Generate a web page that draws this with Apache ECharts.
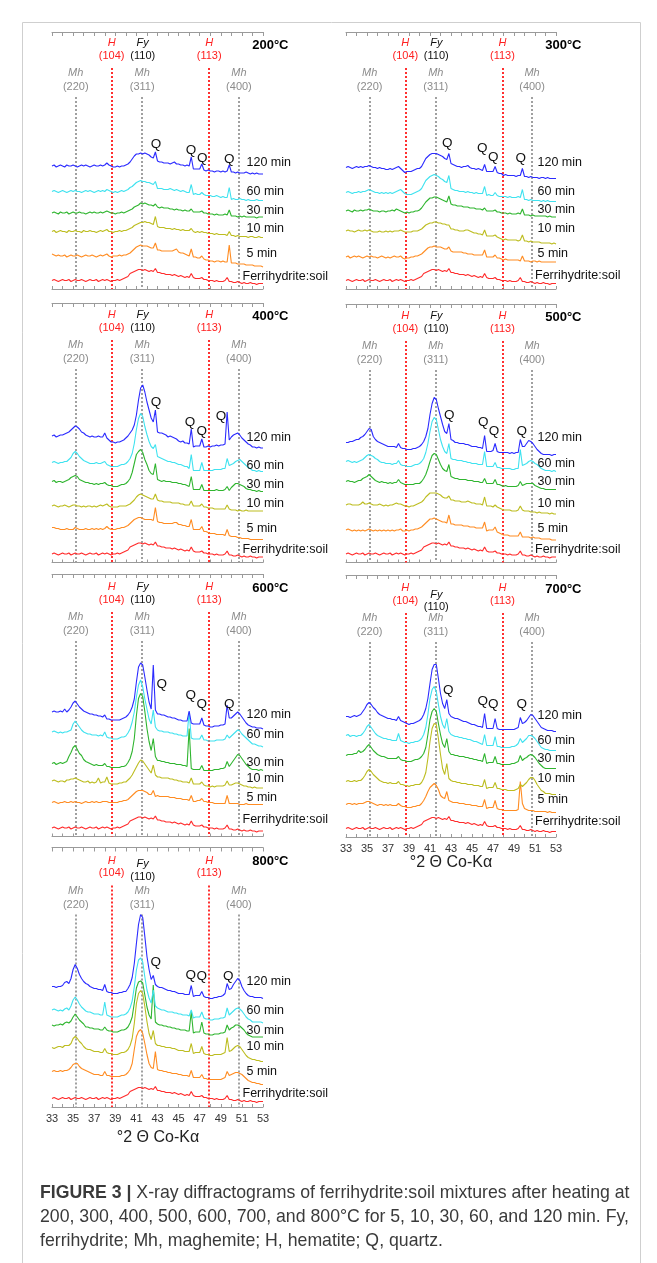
<!DOCTYPE html>
<html>
<head>
<meta charset="utf-8">
<script src="https://cdn.jsdelivr.net/npm/echarts@6/dist/echarts.min.js"></script>
<style>
html,body{margin:0;padding:0;background:#fff;}
#chart{width:657px;height:1263px;}
</style>
</head>
<body>
<div id="chart"></div>
<script>
// ---------------- DATA ----------------
// 2θ (Co-Kα) grid: 33.0 → 53.0 in 0.2° steps (101 points per trace)
const X_START = 33, X_STEP = 0.2;
const TRACE_NAMES = ['Ferrihydrite:soil', '5 min', '10 min', '30 min', '60 min', '120 min'];
const TEMPS = ['200°C', '300°C', '400°C', '500°C', '600°C', '700°C', '800°C'];
const X_TICKS = [33, 35, 37, 39, 41, 43, 45, 47, 49, 51, 53];
// reference reflections (°2θ)
const REFLECTIONS = [
  {phase: 'Mh', hkl: '(220)', pos: 35.25},
  {phase: 'H',  hkl: '(104)', pos: 38.65},
  {phase: 'Mh', hkl: '(311)', pos: 41.55},
  {phase: 'Fy', hkl: '(110)', pos: 41.6},
  {phase: 'H',  hkl: '(113)', pos: 47.9},
  {phase: 'Mh', hkl: '(400)', pos: 50.72}
];

// unheated ferrihydrite:soil mixture (same reference pattern in every panel), relative intensity
const ferrihydriteSoil = [
 0,1,0,-1,0, 1,0,0,1,-1, 0,1,0,0,1, 0,-1,0,1,0, 0,1,-1,0,1, 0,1,0,-1,0, 0,1,0,1,2,
 3,4,7,8,9, 10,11,11,10,11, 10,9,10,9,12, 8,8,7,7,6, 6,6,5,6,5, 4,5,4,3,4,
 3,7,3,2,2, 2,3,1,1,0, 0,0,-1,0,-1, -1,-1,0,3,-1, -1,-2,-2,-1,-2, -3,-2,-3,-3,-2,
 -3,-3,-4,-3,-3, -3];

// ---- 200 °C ----
const t200_5 = [
 2,1,0,1,0, 0,1,-1,0,1, 0,0,1,0,-1, 0,1,0,0,1, 0,-1,0,1,0, 1,2,0,-1,0, 0,0,1,0,1,
 1,2,3,5,7, 9,10,11,10,10, 10,9,8,8,13, 6,6,5,5,5, 5,5,5,6,7, 4,3,3,2,1,
 0,7,-1,-1,-2, -2,0,-3,-4,-4, -5,-5,-6,-5,-5, -6,-5,-6,-6,11, -7,-7,-7,-8,-8, -8,-8,-9,-9,-9,
 -9,-10,-10,-10,-10, -11];
const t200_10 = [
 0,1,-1,0,1, 0,0,-1,1,0, 0,1,0,0,-1, 1,0,0,1,0, 0,-1,0,1,0, 1,2,0,0,-1, 0,0,1,0,1,
 1,2,3,4,6, 7,8,9,9,10, 9,9,8,7,15, 5,4,4,4,3, 3,3,2,3,2, 2,1,2,1,1,
 1,3,0,-1,0, -1,0,-1,-1,-2, -2,-2,-3,-2,-3, -3,-3,-3,-4,0, -4,-4,-5,-4,-5, -5,-5,-5,-6,-5,
 -5,-6,-6,-5,-6, -6];
const t200_30 = [
 0,1,0,-1,1, 0,0,1,-1,0, 1,0,0,1,0, 0,-1,0,1,0, 1,0,0,1,0, 1,2,1,0,0, -1,0,0,1,0,
 1,2,3,4,6, 7,8,10,9,10, 9,8,8,7,9, 6,5,6,5,5, 5,4,4,3,4, 3,3,2,3,2,
 2,4,1,1,1, 1,2,0,0,-1, -1,-1,-2,-1,-2, -2,-2,-1,-2,3, -3,-3,-3,-4,-3, -4,-3,-4,-4,-4,
 -4,-4,-5,-4,-4, -4];
const t200_60 = [
 0,1,0,-1,0, 1,0,-1,0,1, 0,1,0,0,-1, 0,1,0,1,0, -1,0,1,0,1, 0,2,1,0,-1, 0,-1,0,1,0,
 1,2,4,5,7, 9,10,11,10,10, 9,9,8,7,10, 3,3,3,2,2, 2,3,2,1,2, 1,0,1,0,-1,
 -1,7,-3,-2,-3, -3,-1,-3,-4,-4, -4,-5,-5,-4,-5, -6,-5,-6,-6,4, -8,-7,-8,-8,-7, -8,-8,-9,-8,-9,
 -9,-9,-8,-9,-9, -9];
const t200_120 = [
 0,1,-1,0,1, 0,-1,1,0,0, 1,0,-1,0,1, 0,1,0,-1,0, 1,0,0,1,0, 1,3,1,0,-1, -1,0,-1,0,0,
 1,2,4,7,10, 12,12,13,12,13, 12,11,9,8,14, 5,4,4,3,3, 3,2,3,4,2, 2,1,1,0,1,
 0,9,-3,-3,-3, -3,2,-4,-5,-4, -5,-5,-6,-5,-5, -6,-5,-6,-5,1, -6,-6,-7,-6,-7, -7,-7,-6,-7,-8,
 -7,-8,-7,-8,-8, -8];

// ---- 300 °C ----
const t300_5 = [
 0,1,-1,0,1, 0,1,0,-1,0, 1,0,1,0,0, -1,0,1,0,-1, 0,-1,0,1,0, 0,1,-1,-2,-1, -1,0,0,1,1,
 2,3,5,7,9, 10,10,11,10,10, 10,9,8,8,10, 6,5,5,5,5, 5,4,4,3,3, 3,2,2,2,2,
 2,7,0,0,0, 0,2,-1,-1,-2, -3,-2,-3,-3,-3, -3,-3,-3,-4,1, -4,-4,-4,-5,-4, -4,-5,-4,-5,-5,
 -5,-5,-5,-5,-5, -5];
const t300_10 = [
 0,1,0,0,-1, 0,1,0,0,1, 0,1,0,-1,-1, -1,0,-1,-1,0, -1,0,-1,0,0, 0,1,0,-1,-1, -1,-1,0,0,0,
 1,2,4,6,7, 8,8,9,9,8, 8,7,7,6,6, 2,2,1,1,0, 0,0,1,1,0, -1,-2,-2,-3,-3,
 -4,1,-5,-5,-5, -5,-4,-6,-7,-8, -9,-8,-9,-9,-9, -9,-9,-10,-9,-4, -10,-10,-11,-10,-11, -11,-11,-11,-12,-12,
 -12,-12,-12,-13,-12, -13];
const t300_30 = [
 0,1,0,-1,1, 0,0,1,0,1, 1,2,1,0,0, 0,-1,0,0,-1, 0,0,1,0,2, 1,0,-1,-2,-1, -2,-1,-1,0,0,
 1,3,6,9,11, 13,13,14,14,13, 12,11,10,9,15, 7,6,6,5,5, 5,4,4,4,3, 3,3,2,2,2,
 1,3,0,0,0, 0,1,-1,-1,-2, -2,-2,-3,-2,-3, -3,-3,-2,-3,2, -4,-4,-4,-5,-4, -5,-5,-5,-5,-5,
 -5,-6,-5,-6,-6, -6];
const t300_60 = [
 0,1,0,-1,0, 0,1,0,1,1, 2,3,2,1,0, 0,-1,0,-1,0, -1,0,-1,0,1, 2,3,1,-1,-2, -2,-2,-1,0,1,
 2,4,8,12,14, 16,17,18,17,16, 14,13,11,10,17, 4,3,2,2,1, 1,1,0,1,0, 0,-1,0,-1,-1,
 -1,6,-3,-2,-3, -3,0,-3,-4,-4, -4,-4,-5,-4,-5, -5,-5,-4,-5,3, -7,-7,-8,-7,-8, -8,-8,-8,-9,-8,
 -9,-8,-9,-9,-9, -9];
const t300_120 = [
 0,1,0,-1,0, 1,0,1,0,1, 1,2,1,0,0, -1,0,-1,-1,-2, -2,-1,-2,-1,0, 1,-1,-3,-5,-4, -4,-4,-3,-2,-1,
 -1,1,5,9,11, 13,14,14,14,13, 12,11,9,8,14, 4,3,2,1,1, 0,1,1,2,0, -1,-1,-2,-1,-2,
 -3,3,-4,-4,-4, -4,1,-5,-6,-6, -8,-7,-8,-8,-8, -8,-9,-8,-8,-1, -9,-9,-10,-9,-10, -10,-10,-11,-10,-10,
 -11,-10,-11,-11,-11, -11];

// ---- 400 °C ----
const t400_5 = [
 0,0,-1,-1,-2, -2,-2,-1,-2,-2, -2,0,-1,-2,-2, -2,-1,-2,-2,-1, -2,-1,-2,-1,-2, -1,1,-1,-2,-2, -2,-1,-1,0,0,
 1,2,4,6,8, 9,10,10,9,8, 8,8,8,7,20, 6,5,5,4,4, 4,4,4,5,5, 3,3,2,2,1,
 1,8,-2,-2,-2, -2,1,-4,-4,-5, -6,-6,-6,-7,-7, -7,-7,-8,-2,-8, -9,-9,-9,-10,-10, -11,-11,-11,-11,-12,
 -12,-12,-12,-12,-12, -12];
const t400_10 = [
 0,1,0,-1,0, 0,1,0,-1,0, 1,1,0,0,-1, 0,-1,0,0,-1, 0,-1,0,1,0, 1,2,0,-1,-1, -1,-1,0,0,0,
 0,1,2,4,6, 9,11,12,11,10, 9,8,7,7,12, 6,5,5,4,4, 4,4,3,3,3, 3,2,2,1,1,
 1,5,0,0,0, 0,2,-1,-1,-2, -2,-2,-3,-3,-3, -3,-3,-3,1,-3, -4,-4,-4,-5,-4, -5,-5,-4,-5,-5,
 -5,-5,-5,-5,-5, -5];
const t400_30 = [
 0,1,-1,0,0, -1,0,1,2,4, 5,6,5,2,1, 0,-1,-1,-2,-2, -3,-2,-3,-2,-2, -1,-3,-4,-4,-5, -5,-5,-4,-3,-3,
 -2,0,3,9,18, 27,30,32,29,22, 17,11,8,7,18, 2,1,0,1,0, 0,0,-1,-1,-1, -2,-2,-3,-3,-4,
 -5,5,-8,-8,-8, -8,-3,-9,-9,-9, -9,-9,-9,-8,-9, -9,-9,-8,-5,-9, -6,-4,-2,-2,-3, -4,-5,-7,-8,-8,
 -9,-9,-10,-9,-10, -10];
const t400_60 = [
 0,1,0,-1,0, 0,1,1,3,5, 9,11,9,6,4, 2,1,0,-1,-1, -1,0,-1,-1,0, 1,-2,-3,-4,-4, -4,-4,-3,-2,-2,
 -1,1,4,9,19, 33,44,49,46,36, 28,21,16,14,18, 6,5,4,3,2, 1,1,0,0,-1, -2,-2,-3,-4,-4,
 -6,8,-8,-8,-8, -8,0,-8,-8,-8, -8,-8,-7,-7,-7, -7,-6,-6,4,-3, -2,-1,1,2,3, 1,-1,-3,-5,-6,
 -8,-8,-9,-8,-9, -9];
const t400_120 = [
 0,1,-1,0,1, 1,2,3,4,6, 8,10,9,7,4, 3,1,0,-1,0, -1,-1,0,-1,-1, 3,-2,-4,-6,-6, -7,-6,-6,-5,-4,
 -2,0,3,6,11, 21,36,48,51,44, 34,26,18,14,26, 4,3,3,2,1, -1,0,-1,-2,-3, -5,-6,-5,-7,-7,
 -8,7,-11,-10,-10, -10,-3,-11,-11,-10, -11,-10,-10,-9,-10, -9,-9,-8,24,-4, -1,1,2,3,1, -2,-4,-6,-8,-9,
 -11,-11,-12,-11,-12, -12];

// ---- 500 °C ----
const t500_5 = [
 0,1,0,-1,0, -1,0,-1,0,-1, 0,1,0,-1,0, -1,0,-1,0,-1, 0,-1,0,-1,0, 0,1,-1,-1,0, -1,0,0,1,1,
 2,3,5,7,9, 11,11,12,11,10, 9,8,8,7,15, 6,6,5,5,5, 5,4,4,4,3, 3,3,2,2,2,
 2,8,-1,0,0, 0,3,-2,-3,-4, -5,-5,-5,-6,-6, -6,-6,-6,-2,-7, -7,-7,-7,-8,-7, -8,-8,-8,-9,-9,
 -9,-9,-9,-10,-10, -10];
const t500_10 = [
 0,1,1,0,0, 0,0,1,3,1, 1,2,1,0,0, 0,1,0,-1,0, -1,0,0,1,2, 1,1,0,-1,-1, -2,-1,-1,0,1,
 2,3,5,8,10, 12,12,12,12,11, 10,8,7,7,9, 5,5,4,4,4, 3,3,3,4,3, 2,2,1,1,1,
 0,8,-1,-1,-1, -2,0,-2,-3,-4, -5,-5,-5,-5,-6, -6,-6,-5,-1,-5, -6,-6,-6,-7,-7, -7,-8,-7,-8,-8,
 -8,-8,-9,-8,-9, -9];
const t500_30 = [
 0,1,0,0,-1, 0,1,1,3,4, 5,7,5,3,1, 0,-1,0,-1,-1, -2,-1,-2,-1,-1, 2,-1,-2,-3,-3, -3,-3,-3,-2,-2,
 -2,0,3,7,13, 20,26,28,27,22, 17,13,11,10,17, 5,4,3,3,2, 2,2,2,1,1, 1,0,0,0,-1,
 -1,3,-2,-2,-2, -2,2,-3,-3,-4, -5,-4,-5,-5,-5, -5,-5,-4,0,-4, -3,-2,-2,-2,-2, -4,-5,-6,-7,-7,
 -8,-8,-8,-8,-8, -8];
const t500_60 = [
 0,1,0,-1,0, -1,0,1,2,4, 6,7,6,5,3, 2,0,-1,-1,-2, -2,-2,-3,-2,-2, 1,-3,-4,-4,-5, -5,-5,-4,-3,-3,
 -2,0,3,9,18, 30,40,44,42,32, 22,15,10,8,18, 3,2,2,1,1, 1,0,0,-1,-1, -2,-2,-2,-3,-3,
 -3,10,-5,-5,-5, -5,-1,-6,-6,-7, -7,-7,-7,-7,-8, -8,-7,-7,12,-4, -3,-2,0,1,0, -2,-3,-5,-7,-8,
 -9,-9,-9,-10,-9, -10];
const t500_120 = [
 0,0,1,1,2, 3,3,5,6,8, 11,14,13,6,3, 1,0,-1,-2,-3, -4,-4,-4,-4,-5, -1,-5,-6,-6,-7, -7,-7,-6,-6,-5,
 -4,-2,1,6,14, 28,39,45,43,34, 26,18,11,9,19, 3,2,0,0,-1, -1,-1,-2,-2,-3, -4,-4,-4,-5,-5,
 -6,7,-9,-9,-9, -8,-1,-9,-10,-10, -10,-10,-10,-11,-10, -11,-10,-10,3,-4, -4,-1,2,1,-1, -4,-7,-9,-11,-12,
 -12,-12,-12,-13,-12, -12];

// ---- 600 °C ----
const t600_5 = [
 0,1,0,-1,0, 0,1,0,0,1, 0,1,0,0,-1, 0,1,0,0,1, 0,1,0,0,1, 1,1,0,0,0, 0,0,1,1,2,
 2,3,5,7,9, 11,12,12,12,11, 10,8,8,12,6, 7,6,6,6,6, 6,5,5,5,4, 4,4,3,3,3,
 2,7,1,1,2, 2,4,1,1,0, 0,0,-1,-1,-1, -1,-1,-1,7,-1, -1,-1,-1,-1,-2, -2,-2,-1,-2,-2,
 -2,-2,-2,-2,-2, -2];
const t600_10 = [
 0,1,0,-1,0, 0,-1,1,1,2, 2,3,2,1,0, -1,-1,0,-2,-1, -2,-1,3,-2,-1, -1,4,-2,-3,-3, -3,-3,-2,-2,-1,
 -1,1,3,6,10, 14,18,21,20,17, 14,11,8,16,6, 4,4,3,3,3, 3,2,2,1,1, 0,0,-1,-1,-1,
 -2,3,-3,-3,-3, -3,-1,-4,-5,-5, -6,-5,-6,-5,-5, -5,-5,-4,0,-4, -4,-3,-2,-2,-3, -4,-5,-5,-6,-6,
 -7,-6,-7,-7,-7, -7];
const t600_30 = [
 0,1,-1,0,1, 0,1,2,7,11, 16,18,14,10,8, 4,2,1,0,-1, -2,-1,-2,-2,-2, 0,-3,-3,-4,-4, -4,-4,-4,-3,-3,
 -2,1,5,12,25, 48,65,70,67,52, 35,22,13,25,7, 3,3,2,2,1, 1,0,0,0,-1, -1,-1,-2,-2,-3,
 35,-5,-6,-6,-6, -6,-2,-7,-7,-7, -7,-7,-6,-6,-6, -5,-5,-4,2,-3, 0,3,6,9,8, 5,2,-1,-3,-5,
 -6,-6,-6,-7,-6, -7];
const t600_60 = [
 0,1,0,-1,0, -1,0,0,1,2, 8,11,8,5,2, 0,-1,-2,-2,-3, -3,-3,-4,-3,-4, 0,-5,-6,-6,-7, -7,-7,-6,-5,-5,
 -4,-1,3,10,20, 35,47,52,45,33, 23,13,8,22,5, 2,1,1,0,0, 0,-1,-1,-2,-2, -3,-3,-4,-4,-4,
 20,-6,-7,-7,-7, -7,-3,-8,-8,-9, -9,-9,-9,-8,-8, -8,-8,-7,-3,-6, -4,-2,0,2,1, -2,-4,-6,-8,-10,
 -12,-12,-13,-14,-14, -15];
const t600_120 = [
 0,1,0,0,1, 0,3,0,2,5, 9,11,8,5,3, 1,0,-1,-2,-2, -3,-3,-4,-4,-5, -3,-7,-7,-8,-8, -8,-8,-8,-7,-6,
 -5,-3,0,5,13, 30,45,49,47,35, 22,10,3,47,2, -2,-2,-3,-3,-4, -5,-5,-6,-6,-7, -8,-8,-9,-9,-9,
 1,-11,-12,-12,-12, -12,-6,-13,-14,-14, -15,-15,-14,-14,-14, -13,-13,-12,7,-6, -6,-4,-2,0,-2, -5,-8,-11,-13,-14,
 -15,-15,-16,-16,-16, -17];

// ---- 700 °C ----
const t700_5 = [
 0,1,1,0,1, 0,1,1,1,2, 3,3,2,1,0, -1,0,0,-1,0, -1,0,-1,-1,-1, 1,-1,-2,-2,-3, -3,-3,-2,-2,-1,
 -1,1,4,8,13, 17,19,21,19,15, 9,7,6,13,4, 3,2,2,2,1, 1,1,0,0,0, -1,-1,-1,-2,-2,
 -2,5,-4,-3,-3, -3,4,-4,-5,-5, -6,-6,-6,-6,-6, -6,-6,-5,23,1, -4,-5,-6,-6,-6, -7,-7,-7,-7,-7,
 -7,-8,-7,-8,-8, -8];
const t700_10 = [
 0,1,0,0,1, 0,1,1,3,6, 10,12,10,7,5, 3,1,0,-1,-1, -2,-1,-2,-2,-2, 0,-3,-3,-4,-4, -5,-4,-4,-3,-3,
 -3,-1,3,9,23, 40,53,58,57,43, 27,13,7,18,3, 1,0,0,-1,-1, -2,-2,-2,-3,-3, -3,-4,-4,-4,-5,
 -5,2,-7,-6,-6, -6,-1,-7,-7,-8, -8,-8,-9,-9,-9, -9,-8,-7,-3,-5, -3,-1,2,4,4, 1,-3,-6,-9,-10,
 -12,-12,-12,-13,-13, -13];
const t700_30 = [
 0,1,1,1,2, 2,5,3,4,6, 9,11,8,5,3, 1,0,-1,-1,-2, -3,-3,-3,-3,-3, -1,-4,-5,-5,-6, -6,-6,-5,-4,-4,
 -3,-1,2,8,21, 36,44,47,44,32, 21,12,8,17,4, 1,1,0,0,-1, -1,-1,-2,-2,-3, -3,-4,-4,-5,-5,
 -6,2,-8,-7,-7, -7,-1,-8,-8,-9, -9,-9,-9,-9,-8, -8,-7,-6,0,-5, -3,-2,0,1,0, -2,-5,-8,-10,-12,
 -13,-13,-13,-13,-13, -13];
const t700_60 = [
 0,1,-1,0,0, -1,0,0,2,5, 9,11,8,5,2, 0,-1,-2,-3,-3, -4,-4,-5,-5,-5, 2,-5,-6,-7,-7, -8,-7,-7,-6,-6,
 -5,-3,1,8,21, 37,46,49,44,31, 19,11,7,17,4, 1,0,-1,-1,-2, -2,-3,-3,-4,-4, -5,-6,-6,-7,-8,
 -9,1,-10,-10,-10, -10,-1,-11,-11,-12, -12,-12,-12,-12,-11, -11,-10,-8,-3,-7, -5,-3,0,0,-1, -3,-6,-9,-12,-13,
 -14,-14,-15,-15,-15, -15];
const t700_120 = [
 0,0,-1,0,1, 0,1,2,5,8, 12,14,12,9,7, 4,2,1,0,-1, -2,-2,-3,-3,-4, 0,-4,-5,-6,-7, -8,-7,-7,-6,-5,
 -4,-2,2,8,18, 33,47,52,52,38, 23,13,8,17,3, 0,-1,-2,-2,-3, -4,-5,-5,-6,-7, -8,-8,-9,-10,-10,
 -11,3,-12,-12,-12, -12,-2,-12,-13,-13, -13,-13,-13,-13,-13, -13,-12,-11,-1,-7, -6,-4,-1,2,1, -2,-5,-8,-11,-12,
 -13,-14,-14,-14,-15, -15];

// ---- 800 °C ----
const t800_5 = [
 0,1,0,0,1, 0,1,1,2,4, 7,8,8,5,3, 2,1,0,-1,-2, -3,-3,-3,-4,-4, 0,-4,-4,-5,-5, -5,-5,-5,-4,-4,
 -3,-1,2,8,22, 35,40,42,38,28, 17,8,4,3,20, 2,1,1,0,0, -1,-1,-2,-2,-2, -3,-3,-4,-4,-4,
 -5,1,-6,-6,-6, -6,-3,-7,-7,-8, -8,-8,-8,-8,-8, -8,-7,-6,0,-4, -3,-2,-1,-1,-2, -3,-5,-7,-9,-10,
 -11,-11,-12,-12,-13, -13];
const t800_10 = [
 0,-1,0,1,1, 0,2,2,2,4, 9,11,9,6,4, 1,-1,-2,-2,-3, -4,-4,-4,-5,-5, -1,-5,-6,-6,-7, -7,-7,-6,-5,-5,
 -4,-2,2,9,24, 44,54,57,54,41, 26,14,8,17,4, 2,2,1,1,0, 0,0,-1,-1,-2, -3,-3,-3,-4,-4,
 -4,4,-6,-5,-5, -5,1,-6,-7,-7, -8,-8,-7,-7,-7, -7,-6,-5,10,-4, -3,-1,1,2,1, -2,-5,-8,-10,-11,
 -12,-12,-13,-13,-14, -14];
const t800_30 = [
 0,-1,0,0,1, 0,2,3,2,4, 8,11,8,5,3, 1,-2,-2,-3,-3, -4,-4,-4,-5,-5, -2,-5,-6,-6,-7, -7,-7,-6,-5,-5,
 -4,-2,2,8,22, 37,43,44,42,30, 18,10,6,40,3, 1,0,0,-1,-1, -2,-2,-3,-3,-4, -4,-5,-5,-5,-6,
 -6,13,-8,-7,-7, -7,3,-8,-9,-9, -10,-10,-9,-9,-9, -8,-8,-7,0,-5, -3,-2,0,0,-1, -3,-5,-8,-10,-11,
 -12,-12,-12,-12,-12, -12];
const t800_60 = [
 0,1,0,-1,0, -1,1,2,0,4, 10,13,10,6,3, 1,-1,-2,-2,-3, -4,-4,-4,-5,-5, 8,-5,-6,-7,-7, -7,-7,-6,-5,-5,
 -4,-2,2,9,23, 40,50,52,48,33, 20,12,7,20,4, 2,1,0,0,-1, -2,-2,-2,-3,-3, -4,-4,-5,-5,-5,
 -6,0,-8,-7,-7, -7,-2,-8,-9,-9, -10,-10,-9,-9,-9, -8,-8,-7,2,-5, -3,-1,1,2,1, -1,-4,-7,-9,-10,
 -12,-12,-12,-12,-12, -13];
const t800_120 = [
 0,0,-1,0,0, 1,4,5,3,8, 17,22,18,12,8, 5,3,2,0,-1, -2,-2,-3,-3,-4, 2,-5,-6,-6,-7, -7,-7,-6,-6,-5,
 -5,-2,2,9,23, 43,62,72,69,50, 30,17,7,11,2, 0,-1,-1,-2,-3, -4,-4,-5,-5,-6, -7,-7,-7,-8,-8,
 -8,1,-10,-9,-9, -9,-5,-10,-11,-11, -12,-12,-11,-11,-10, -10,-9,-7,3,-3, -2,2,5,8,6, 0,-4,-7,-9,-10,
 -10,-11,-11,-11,-11, -12];

// vertical stacking offsets of the diffractograms (Ferrihydrite:soil, 5, 10, 30, 60, 120 min)
const OFF_200 = [8.5, 33, 57.5, 76, 97.5, 123];
const OFF_300 = [8.5, 32, 58, 78, 96.5, 121.5];
const OFF_400 = [8.5, 35, 56.5, 81, 100, 126.5];
const OFF_500 = [8.5, 32.5, 57.5, 81, 101, 120];
const OFF_600 = [8.5, 34, 55.5, 73, 104.5, 124.5];
const OFF_700 = [8.5, 32.5, 55.5, 81.5, 101.5, 120.5];
const OFF_800 = [8.5, 35.5, 59.5, 82, 97, 120.5];

// ---------------- LAYOUT / STYLE ----------------
const COLORS = ['#ff2b2b', '#ff8c22', '#bdbd20', '#2fb52f', '#3ee2ef', '#2b2bff'];
const FONT = "'Liberation Sans', Arial, Helvetica, sans-serif";
const PANELS = [
  {temp: TEMPS[0], traces: [ferrihydriteSoil, t200_5, t200_10, t200_30, t200_60, t200_120], off: OFF_200,
   grid: {left: 52, top: 32, width: 211, height: 257}, dy: 0, fy: [11, 23.5],
   lab: [245, 222, 197, 179, 160, 131], labX: [190.5, 194.5],
   q: [[156, 144], [191, 150], [202.3, 158.3], [229.3, 159.3]], axis: false},
  {temp: TEMPS[1], traces: [ferrihydriteSoil, t300_5, t300_10, t300_30, t300_60, t300_120], off: OFF_300,
   grid: {left: 346, top: 32, width: 210, height: 257}, dy: 0, fy: [11, 23.5],
   lab: [244, 221.3, 196.7, 178, 159.3, 130.7], labX: [189, 191.5],
   q: [[447.3, 143.3], [482.3, 148.3], [493.3, 157.7], [520.7, 158.3]], axis: false},
  {temp: TEMPS[2], traces: [ferrihydriteSoil, t400_5, t400_10, t400_30, t400_60, t400_120], off: OFF_400,
   grid: {left: 52, top: 303, width: 211, height: 259.5}, dy: 1, fy: [12, 24.5],
   lab: [246.3, 225.7, 200.3, 182, 163, 134.3], labX: [190.5, 194.5],
   q: [[156, 402.7], [190, 422.7], [201.7, 431.7], [221, 416.7]], axis: false},
  {temp: TEMPS[3], traces: [ferrihydriteSoil, t500_5, t500_10, t500_30, t500_60, t500_120], off: OFF_500,
   grid: {left: 346, top: 304, width: 210, height: 258.5}, dy: 1, fy: [12, 24.5],
   lab: [246, 224.7, 199.3, 177.7, 160, 133.3], labX: [189, 191.5],
   q: [[449.3, 415], [483.3, 422.7], [494, 431.7], [521.7, 431.7]], axis: false},
  {temp: TEMPS[4], traces: [ferrihydriteSoil, t600_5, t600_10, t600_30, t600_60, t600_120], off: OFF_600,
   grid: {left: 52, top: 574, width: 211, height: 262.5}, dy: 2, fy: [13, 25.5],
   lab: [246, 223.3, 204.3, 188.3, 161, 141], labX: [190.5, 194.5],
   q: [[161.7, 684.3], [190.7, 695], [201.7, 704.3], [229.3, 704.3]], axis: false},
  {temp: TEMPS[5], traces: [ferrihydriteSoil, t700_5, t700_10, t700_30, t700_60, t700_120], off: OFF_700,
   grid: {left: 346, top: 575, width: 210, height: 262}, dy: 2, fy: [20, 32],
   lab: [246.7, 225, 203.3, 184, 165.7, 140.7], labX: [189, 191.5],
   q: [[448.3, 690], [482.7, 701.7], [493.3, 704.3], [521.7, 704.3]], axis: true, title: [451, 863]},
  {temp: TEMPS[6], traces: [ferrihydriteSoil, t800_5, t800_10, t800_30, t800_60, t800_120], off: OFF_800,
   grid: {left: 52, top: 847.5, width: 211, height: 259.5}, dy: 2, fy: [16, 29],
   lab: [245.8, 224.2, 199.2, 183.5, 163.2, 134.2], labX: [190.5, 194.5],
   q: [[155.7, 962.7], [190.7, 975], [201.7, 976.7], [228.3, 976]], axis: true, title: [158, 1138]}
];

const AX_COLOR = '#9a9a9a';
const grids = [], xAxes = [], yAxes = [], series = [], graphics = [];

function txt(text, x, y, o) {
  o = o || {};
  graphics.push({type: 'text', silent: true, z: 50, style: Object.assign({
    text: text, x: x, y: y, fill: '#111', fontSize: 11, fontFamily: FONT,
    align: 'center', verticalAlign: 'middle', textAlign: 'center', textVerticalAlign: 'middle'
  }, o)});
}

PANELS.forEach(function (p, gi) {
  const g = p.grid;
  const H = g.height;
  grids.push({left: g.left, top: g.top, width: g.width, height: H});
  xAxes.push({
    gridIndex: gi, type: 'value', position: 'bottom', min: 33, max: 53, interval: 1,
    axisLine: {lineStyle: {color: AX_COLOR, width: 1}},
    axisTick: {inside: true, length: 3, lineStyle: {color: AX_COLOR}},
    splitLine: {show: false},
    axisLabel: {show: p.axis, margin: 6, color: '#333', fontSize: 11, fontFamily: FONT,
      formatter: function (v) { return X_TICKS.indexOf(Math.round(v)) >= 0 ? String(Math.round(v)) : ''; }}
  });
  xAxes.push({
    gridIndex: gi, type: 'value', position: 'top', min: 33, max: 53, interval: 1,
    axisLine: {lineStyle: {color: AX_COLOR, width: 1}},
    axisTick: {inside: true, length: 4, lineStyle: {color: AX_COLOR}},
    splitLine: {show: false}, axisLabel: {show: false}
  });
  yAxes.push({gridIndex: gi, type: 'value', min: 0, max: H, show: false});

  const px = function (theta) { return g.left + (theta - 33) / 20 * g.width; };
  const dy = p.dy;

  // reference lines (dotted), drawn with the first series
  const mlData = [];
  REFLECTIONS.forEach(function (r) {
    if (r.phase === 'Fy') return;
    const isH = r.phase === 'H';
    const startY = H - (isH ? 36 + dy : 65 + dy);
    mlData.push([{coord: [r.pos, startY], lineStyle: {color: isH ? '#ff3030' : '#a0a0a0', type: [2, 2], width: 2}},
                 {coord: [r.pos, 0]}]);
  });

  p.traces.forEach(function (arr, ti) {
    const off = p.off[ti];
    const s = {
      type: 'line', name: TRACE_NAMES[ti] + ' ' + p.temp, xAxisIndex: gi * 2, yAxisIndex: gi,
      showSymbol: false, symbol: 'none', animation: false, silent: true, z: 3 + ti,
      lineStyle: {color: COLORS[ti], width: 1.1},
      data: arr.map(function (v, i) { return [+(X_START + i * X_STEP).toFixed(2), off + v]; })
    };
    if (ti === 0) {
      s.markLine = {silent: true, symbol: ['none', 'none'], animation: false, label: {show: false},
        lineStyle: {type: [2, 2]}, data: mlData, z: 1};
    }
    series.push(s);
  });

  // peak labels
  REFLECTIONS.forEach(function (r) {
    const x = px(r.pos);
    if (r.phase === 'H') {
      txt('H', x, g.top + 11 + dy, {fill: '#ff2020', fontStyle: 'italic'});
      txt(r.hkl, x, g.top + 23.5 + dy, {fill: '#ff2020'});
    } else if (r.phase === 'Fy') {
      txt('Fy', x, g.top + p.fy[0], {fill: '#111', fontStyle: 'italic'});
      txt(r.hkl, x, g.top + p.fy[1], {fill: '#111'});
    } else {
      txt('Mh', x, g.top + 41 + dy, {fill: '#8c8c8c', fontStyle: 'italic'});
      txt(r.hkl, x, g.top + 55 + dy, {fill: '#8c8c8c'});
    }
  });
  // temperature
  txt(p.temp, g.left + g.width + 25.5, g.top + 13 + dy * 0.5,
      {fontWeight: 'bold', fontSize: 13, align: 'right', textAlign: 'right', fill: '#000'});
  // trace labels
  TRACE_NAMES.forEach(function (n, ti) {
    const lx = g.left + (ti === 0 ? p.labX[0] : p.labX[1]);
    txt(n, lx, g.top + p.lab[ti], {fontSize: 12.5, align: 'left', textAlign: 'left', fill: '#111'});
  });
  // quartz labels
  p.q.forEach(function (q) { txt('Q', q[0], q[1], {fontSize: 13.5, fill: '#111'}); });
  // axis title
  if (p.title) txt('°2 Θ Co-Kα', p.title[0], p.title[1], {fontSize: 16, fill: '#222'});
});

// figure frame
graphics.push({type: 'rect', silent: true, z: 0,
  shape: {x: 22.5, y: 22.5, width: 618, height: 1300},
  style: {fill: 'none', stroke: '#cfcfcf', lineWidth: 1}});

// caption
const CAP_FONT = 17.7;
graphics.push({type: 'text', silent: true, z: 50, style: {
  text: '{b|FIGURE 3 |} X-ray diffractograms of ferrihydrite:soil mixtures after heating at',
  x: 40, y: 1193, verticalAlign: 'middle', textVerticalAlign: 'middle', fill: '#3a3a3a',
  fontSize: CAP_FONT, fontFamily: FONT,
  rich: {b: {fontWeight: 'bold', fontSize: CAP_FONT, fontFamily: FONT, fill: '#3a3a3a'}}
}});
txt('200, 300, 400, 500, 600, 700, and 800°C for 5, 10, 30, 60, and 120 min. Fy,', 40, 1217,
    {fontSize: CAP_FONT, align: 'left', textAlign: 'left', fill: '#3a3a3a'});
txt('ferrihydrite; Mh, maghemite; H, hematite; Q, quartz.', 40, 1241,
    {fontSize: CAP_FONT, align: 'left', textAlign: 'left', fill: '#3a3a3a'});

const chart = echarts.init(document.getElementById('chart'), null, {renderer: 'canvas'});
chart.setOption({
  backgroundColor: '#ffffff',
  animation: false,
  grid: grids, xAxis: xAxes, yAxis: yAxes, series: series, graphic: graphics
});
</script>
</body>
</html>
